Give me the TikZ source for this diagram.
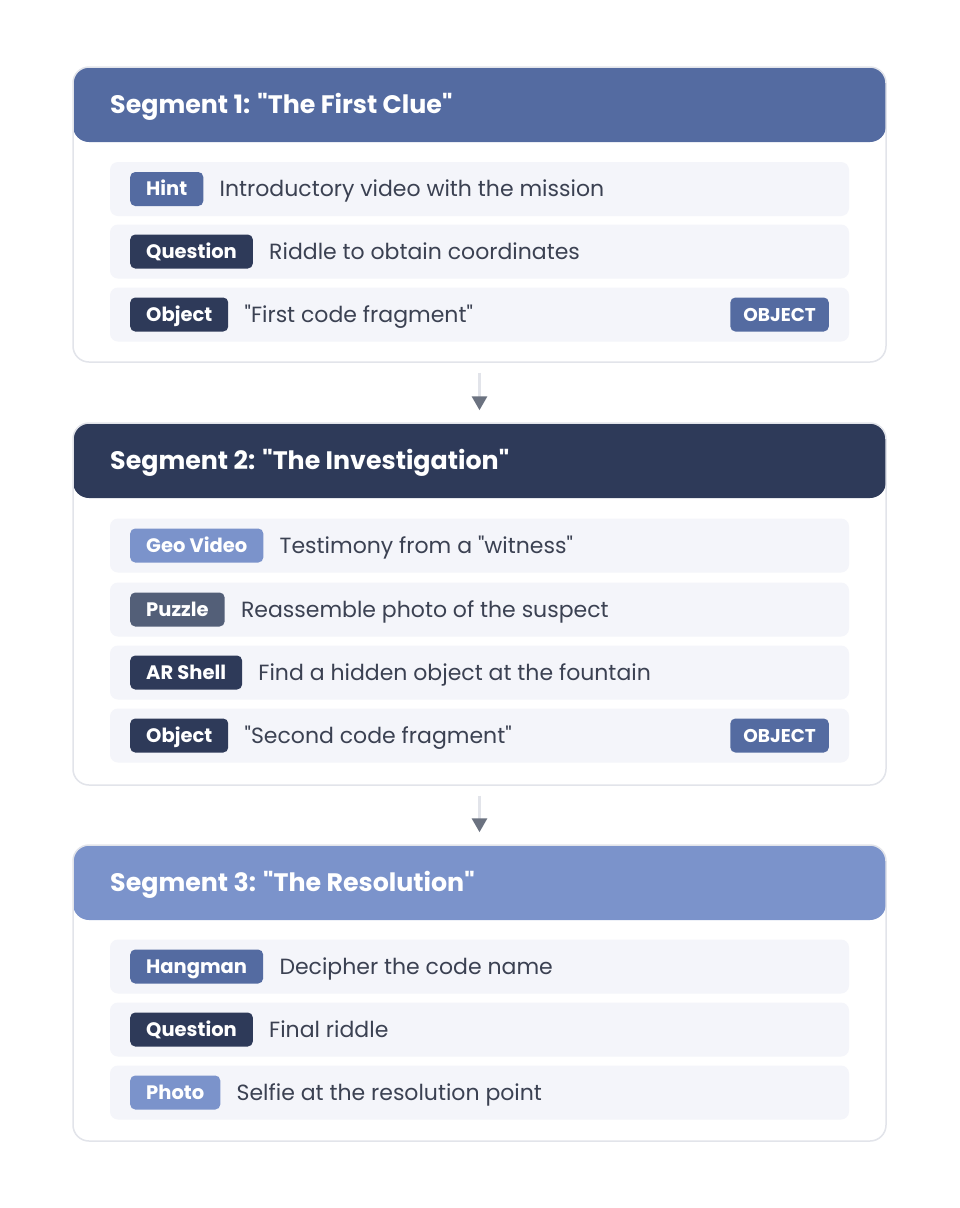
\documentclass[tikz,border=0pt]{standalone}
\usepackage{fontspec}
\setmainfont{Poppins}[Ligatures=TeXOff]
\usetikzlibrary{arrows.meta,positioning}

\definecolor{segblue}{HTML}{546BA1}
\definecolor{segnavy}{HTML}{2E3A59}
\definecolor{seglight}{HTML}{7B93CB}
\definecolor{segslate}{HTML}{535F78}
\definecolor{rowfill}{HTML}{F4F5FA}
\definecolor{cardline}{HTML}{E2E4EA}
\definecolor{bodytext}{HTML}{3B4152}
\definecolor{arrowhead}{HTML}{6B7280}

\tikzset{
  card/.style={draw=cardline, line width=1.5pt, fill=white, rounded corners=16pt,
    minimum width=813pt, inner sep=0pt,
    path picture={\fill[#1] (path picture bounding box.north west)
      rectangle ([yshift=-75pt]path picture bounding box.north east);}},
  headtext/.style={text=white, anchor=west, inner sep=0pt,
    text height=17.5pt, text depth=0pt,
    font=\bfseries\fontsize{25.3}{26}\selectfont},
  rowbox/.style={fill=rowfill, rounded corners=8pt, minimum width=739pt,
    minimum height=54pt, inner sep=0pt},
  badge/.style={fill=#1, text=white, rounded corners=5pt, anchor=west,
    font=\bfseries\fontsize{19.5}{20}\selectfont, inner xsep=16pt, inner ysep=0pt,
    text height=13.6pt, text depth=0pt, minimum height=34pt},
  entry/.style={text=bodytext, inner sep=0pt, text height=15.4pt, text depth=0pt,
    font=\fontsize{22}{23}\selectfont},
  flow/.style={draw=cardline, line width=3pt,
    -{Triangle[length=14pt, width=15pt, color=arrowhead]},
    shorten <=10pt, shorten >=12pt}
}

\begin{document}
\begin{tikzpicture}[x=1pt, y=-1pt]
  \useasboundingbox[fill=white] (0,0) rectangle (960,1208);

  % segment cards
  \node[card=segblue, minimum height=295pt] (seg1) at (479.5,214.5) {};
  \node[card=segnavy, minimum height=362pt] (seg2) at (479.5,604) {};
  \node[card=seglight, minimum height=296pt] (seg3) at (479.5,993) {};

  \node[headtext] (title1) at (110,105) {Segment 1: "The First Clue"};
  \node[headtext] (title2) at (110,461) {Segment 2: "The Investigation"};
  \node[headtext] (title3) at (110,883) {Segment 3: "The Resolution"};

  % segment 1
  \foreach \n/\yy/\col/\lab/\txt in {
      1/189/segblue/Hint/Introductory video with the mission,
      2/251.5/segnavy/Question/Riddle to obtain coordinates,
      3/314.5/segnavy/Object/"First code fragment"} {
    \node[rowbox] (row1\n) at (479.5,\yy) {};
    \node[badge=\col] (tag1\n) at (130,\yy) {\lab};
    \node[entry, right=16pt of tag1\n] (txt1\n) {\txt};
  }
  \node[badge=segblue, anchor=east, inner xsep=13pt,
    font=\bfseries\fontsize{18.5}{19}\selectfont] (obj1) at (829,314.5) {OBJECT};

  % segment 2
  \foreach \n/\yy/\col/\lab/\txt in {
      1/545.5/seglight/Geo Video/Testimony from a "witness",
      2/609.5/segslate/Puzzle/Reassemble photo of the suspect,
      3/672.5/segnavy/AR Shell/Find a hidden object at the fountain,
      4/735.5/segnavy/Object/"Second code fragment"} {
    \node[rowbox] (row2\n) at (479.5,\yy) {};
    \node[badge=\col] (tag2\n) at (130,\yy) {\lab};
    \node[entry, right=16pt of tag2\n] (txt2\n) {\txt};
  }
  \node[badge=segblue, anchor=east, inner xsep=13pt,
    font=\bfseries\fontsize{18.5}{19}\selectfont] (obj2) at (829,735.5) {OBJECT};

  % segment 3
  \foreach \n/\yy/\col/\lab/\txt in {
      1/966.5/segblue/Hangman/Decipher the code name,
      2/1029.5/segnavy/Question/Final riddle,
      3/1092.5/seglight/Photo/Selfie at the resolution point} {
    \node[rowbox] (row3\n) at (479.5,\yy) {};
    \node[badge=\col] (tag3\n) at (130,\yy) {\lab};
    \node[entry, right=16pt of tag3\n] (txt3\n) {\txt};
  }

  \draw[flow] (seg1) -- (seg2);
  \draw[flow] (seg2) -- (seg3);
\end{tikzpicture}
\end{document}
